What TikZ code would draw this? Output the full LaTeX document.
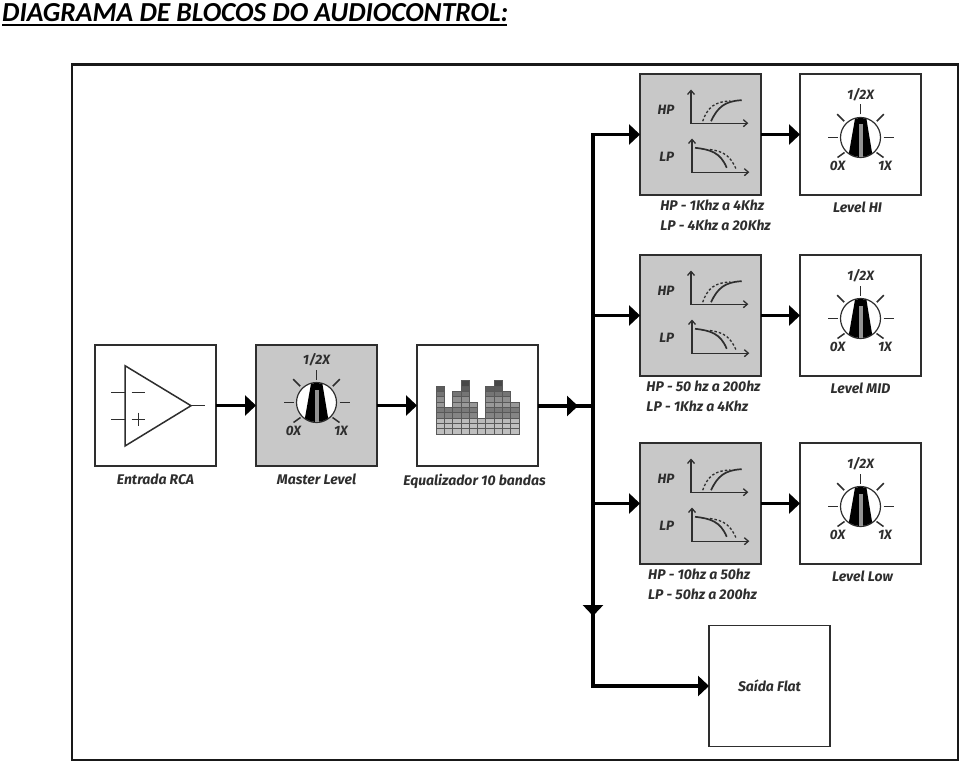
\documentclass[tikz,border=0pt]{standalone}
\usepackage{fontspec}
\setmainfont{Carlito}
\newfontfamily\rotulo{Fira Sans}
\usetikzlibrary{positioning,arrows.meta}

\definecolor{cinza}{HTML}{C8C8C8}
\definecolor{traco}{HTML}{2E2E2E}

\tikzset{
    bloco/.style={rectangle, draw=traco, line width=1.6pt, fill=white, minimum size=121pt, inner sep=0pt, outer sep=0pt},
    blococinza/.style={bloco, fill=cinza},
    texto/.style={font=\rotulo\fontsize{14}{20}\selectfont\itshape\bfseries, text=traco, inner sep=0pt},
    textopeq/.style={font=\rotulo\fontsize{13.5}{14}\selectfont\itshape\bfseries, text=traco, inner sep=0pt},
    linha/.style={line width=3.6pt, black},
    seta/.style={linha, -{Triangle[length=11pt,width=20pt]}},
    eixo/.style={line width=1.3pt, traco, {Straight Barb[length=4pt,width=7pt]}-{Straight Barb[length=4pt,width=7pt]}},
    knob/.pic={
        \foreach \ang in {0,-45,-90,-135,180}
            \draw[line width=1.5pt, traco] (\ang:23) -- (\ang:33);
        \draw[line width=1.5pt, traco] (-16,15) -- (-23,20);
        \draw[line width=1.5pt, traco] (16,15) -- (23,20);
        \draw[line width=1.2pt, traco, fill=white] (0,0) circle [radius=20];
        \begin{scope}
            \clip (0,0) circle [radius=19.5];
            \fill[black] (-5.3,-20) -- (5.7,-20) -- (12.5,21) -- (-12.5,21) -- cycle;
            \fill[gray!85] (-2,-13) rectangle (2,20);
        \end{scope}
        \node (-meio) [textopeq] at (0,-43) {1/2X};
        \node (-zero) [textopeq] at (-23,28) {0X};
        \node (-um) [textopeq] at (24.5,28) {1X};
    },
    filtro/.pic={
        \draw[eixo] (-9.5,-45) -- (-9.5,-11.3) -- (47.8,-11.3);
        \draw[line width=1.3pt, traco, dashed, dash pattern=on 2.5pt off 2pt] (2.2,-13.3) .. controls (7,-27) and (14,-33) .. (30,-33.5);
        \draw[line width=1.7pt, traco] (10.5,-13.3) .. controls (17,-27) and (24,-33.5) .. (41.2,-34.3);
        \draw[eixo] (-8.5,4) -- (-8.5,37.7) -- (48.8,37.7);
        \draw[line width=1.7pt, traco] (-5.5,13.3) .. controls (10,15) and (20,18) .. (26.2,33.3);
        \draw[line width=1.3pt, traco, dashed, dash pattern=on 2.5pt off 2pt] (9.5,15) .. controls (24,17) and (30,22) .. (35.5,34.3);
        \node (-hp) [textopeq] at (-34.5,-25) {HP};
        \node (-lp) [textopeq] at (-33.8,22.7) {LP};
    },
    ampop/.pic={
        \draw[line width=1.5pt, traco] (-30.5,-39.8) -- (35.5,0.2) -- (-30.5,40.5) -- cycle;
        \draw[line width=1.5pt, traco] (-44.5,-13.2) -- (-30.5,-13.2);
        \draw[line width=1.5pt, traco] (-44.5,13.8) -- (-30.5,13.8);
        \draw[line width=1.5pt, traco] (-23.8,-13.2) -- (-10.5,-13.2);
        \draw[line width=1.5pt, traco] (-23.8,13.8) -- (-10.5,13.8);
        \draw[line width=1.5pt, traco] (-17.2,7) -- (-17.2,20.5);
        \draw[line width=1.5pt, traco] (35.5,0.2) -- (49.5,0.2);
    },
    bandas/.pic={
        \foreach \col/\alt in {0/9,1/5,2/8,3/10,4/6,5/3,6/9,7/10,8/8,9/6}
            \foreach \lin in {1,...,\alt} {
                \pgfmathsetmacro\tom{{25,25,27,48,52,40,44,54,64,72}[\lin-1]}
                \draw[line width=0.4pt, black!65, fill=black!\tom] (-41.5+8.27*\col,28.2-5.33*\lin+5.33) rectangle ++(8.27,-5.33);
            }
    }
}

\begin{document}
\begin{tikzpicture}[x=1pt,y=-1pt]
    \useasboundingbox (0,0) rectangle (960,762);
    \fill[white] (0,0) rectangle (960,762);

    \node (titulo) [anchor=base west, inner sep=0pt, font=\fontsize{27.5}{30}\selectfont\itshape\bfseries] at (2,22) {DIAGRAMA DE BLOCOS DO AUDIOCONTROL:};
    \draw[line width=1.7pt, black] (2,25) -- (507,25);
    \draw[line width=2.4pt, black!90] (72,64.5) rectangle (958,760);

    % cadeia de entrada
    \node (entrada) [bloco] at (155.5,405.5) {};
    \node (master) [blococinza, right=40pt of entrada] {};
    \node (eq) [bloco, right=40pt of master] {};

    % filtros e niveis
    \node (f2) [blococinza] at (700.5,315.5) {};
    \node (f1) [blococinza, above=60pt of f2] {};
    \node (f3) [blococinza, below=67pt of f2] {};
    \node (nivel1) [bloco, right=39pt of f1] {};
    \node (nivel2) [bloco, right=39pt of f2] {};
    \node (nivel3) [bloco, right=39pt of f3] {};
    \node (saida) [bloco, texto] at (769.5,686) {Saída Flat};

    \pic at (entrada.center) {ampop};
    \pic (k0) at ([yshift=3pt]master.center) {knob};
    \pic at (eq.center) {bandas};
    \foreach \n in {1,2,3} {
        \pic (g\n) at (f\n.center) {filtro};
        \pic (k\n) at ([yshift=-3pt]nivel\n.center) {knob};
    }

    % legendas
    \node (l1) [texto, below=8pt of entrada] {Entrada RCA};
    \node (l2) [texto, below=8pt of master] {Master Level};
    \node (l3) [texto, below=8pt of eq, xshift=-3pt] {Equalizador 10 bandas};
    \node (l4) [texto, align=left, below=5pt of f1, xshift=15pt] {HP - 1Khz a 4Khz\\LP - 4Khz a 20Khz};
    \node (l5) [texto, align=left, below=5pt of f2, xshift=3pt] {HP - 50 hz a 200hz\\LP - 1Khz a 4Khz};
    \node (l6) [texto, align=left, below=5pt of f3, xshift=2pt] {HP - 10hz a 50hz\\LP - 50hz a 200hz};
    \node (l7) [texto, below=7pt of nivel1, xshift=-3pt] {Level HI};
    \node (l8) [texto, below=7pt of nivel2] {Level MID};
    \node (l9) [texto, below=7pt of nivel3, xshift=2pt] {Level Low};

    % ligacoes
    \coordinate (juncao) at (593,406);
    \coordinate (meio) at (578,406);
    \coordinate (desce) at (593,616);
    \draw[linha] (eq.east |- juncao) -- (juncao);
    \draw[seta] (eq.east |- juncao) -- (meio);
    \draw[seta] (entrada) -- (master);
    \draw[seta] (master) -- (eq);
    \draw[seta] (juncao) |- (f1.west);
    \draw[seta] (juncao) |- (f2.west);
    \draw[seta] (juncao) |- (f3.west);
    \draw[seta] (juncao) -- (desce);
    \draw[seta] (juncao) |- (saida.west);
    \foreach \n in {1,2,3}
        \draw[seta] (f\n) -- (nivel\n);
\end{tikzpicture}
\end{document}
